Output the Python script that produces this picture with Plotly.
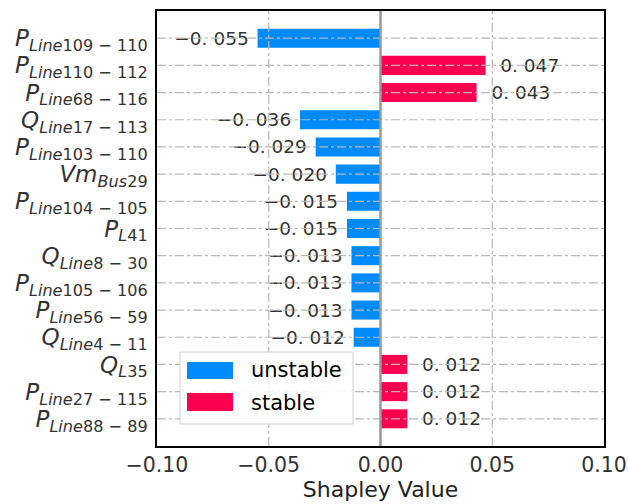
import plotly.graph_objects as go

MINUS = "\u2212"

# feature labels: (variable, subscript word, subscript number)
feat_var = ["P", "P", "P", "Q", "P", "Vm", "P", "P", "Q", "P", "P", "Q", "Q", "P", "P"]
feat_word = ["Line", "Line", "Line", "Line", "Line", "Bus", "Line", "L", "Line", "Line", "Line", "Line", "L", "Line", "Line"]
feat_num = ["109 \u2212 110", "110 \u2212 112", "68 \u2212 116", "17 \u2212 113", "103 \u2212 110", "29",
            "104 \u2212 105", "41", "8 \u2212 30", "105 \u2212 106", "56 \u2212 59", "4 \u2212 11",
            "35", "27 \u2212 115", "88 \u2212 89"]
shap_values = [-0.055, 0.047, 0.043, -0.036, -0.029, -0.020, -0.015, -0.015,
               -0.013, -0.013, -0.013, -0.012, 0.012, 0.012, 0.012]
x_ticks = [-0.10, -0.05, 0.00, 0.05, 0.10]
legend_names = ["unstable", "stable"]

BLUE = "#008bfb"
RED = "#ff0051"
FONT = "DejaVu Sans"
GRID = "#b8b8b8"

keys = [f"{v}_{w}{n}" for v, w, n in zip(feat_var, feat_word, feat_num)]
ticktext = [f"<i>{v}</i><sub><i>{w}</i>{n}</sub>" for v, w, n in zip(feat_var, feat_word, feat_num)]


def fmt(v):
    s = f"{abs(v):.3f}".replace(".", ". ")
    if v < 0:
        return MINUS + s + "\u00a0"
    return "\u00a0\u00a0" + s

fig = go.Figure()
fig.add_trace(go.Bar(
    y=keys, x=shap_values, orientation="h",
    marker=dict(color=[BLUE if v < 0 else RED for v in shap_values], line=dict(width=0)),
    width=0.7,
    text=[fmt(v) for v in shap_values],
    textposition="outside",
    textfont=dict(family=FONT, size=18.5, color="#333333"),
    constraintext="none",
    cliponaxis=False,
    showlegend=False,
    hoverinfo="skip",
))

L, R, T, B = 157, 604, 11, 446
def px(x):
    return (x - L) / (R - L)
def py(y):
    return (B - y) / (B - T)

shapes = []
# grid lines drawn above the bars (as in the reference)
for xv in x_ticks[1:-1]:
    if xv == 0:
        continue
    shapes.append(dict(type="line", xref="x", yref="paper", x0=xv, x1=xv, y0=0, y1=1,
                       line=dict(color=GRID, width=1.2, dash="dashdot"), layer="above"))
for k in keys:
    shapes.append(dict(type="line", xref="paper", yref="y", x0=0, x1=1, y0=k, y1=k,
                       line=dict(color=GRID, width=1.2, dash="dashdot"), layer="above"))
# zero line
shapes.append(dict(type="line", xref="x", yref="paper", x0=0, x1=0, y0=0, y1=1,
                   line=dict(color="#999999", width=2.5), layer="above"))
# custom legend (styled like matplotlib)
shapes += [
    dict(type="rect", xref="paper", yref="paper", x0=px(180), x1=px(353), y0=py(424), y1=py(352),
         fillcolor="rgba(255,255,255,0.9)", line=dict(color="#d0d0d0", width=1), layer="above"),
    dict(type="rect", xref="paper", yref="paper", x0=px(187), x1=px(233), y0=py(379), y1=py(362),
         fillcolor=BLUE, line=dict(width=0), layer="above"),
    dict(type="rect", xref="paper", yref="paper", x0=px(187), x1=px(233), y0=py(411), y1=py(393),
         fillcolor=RED, line=dict(width=0), layer="above"),
]
annotations = [
    dict(text=legend_names[0], xref="paper", yref="paper", x=px(249), y=py(370), xanchor="left",
         yanchor="middle", showarrow=False, font=dict(family=FONT, size=21, color="#000000")),
    dict(text=legend_names[1], xref="paper", yref="paper", x=px(249), y=py(403), xanchor="left",
         yanchor="middle", showarrow=False, font=dict(family=FONT, size=21, color="#000000")),
]

fig.update_layout(
    width=628, height=504,
    margin=dict(l=L, r=628 - R, t=T, b=504 - B, autoexpand=False),
    paper_bgcolor="white", plot_bgcolor="white",
    font=dict(family=FONT, color="#333333"),
    shapes=shapes, annotations=annotations,
    showlegend=False,
    xaxis=dict(
        range=[-0.1, 0.1], tickvals=x_ticks, tickformat=".2f",
        tickfont=dict(family=FONT, size=20.5, color="#333333"),
        showgrid=False, zeroline=False, automargin=False,
        showline=True, linecolor="black", linewidth=1.5, mirror=True,
        ticks="",
        title=dict(text="Shapley Value", font=dict(family=FONT, size=22, color="#222222"), standoff=3),
    ),
    yaxis=dict(
        categoryorder="array", categoryarray=keys,
        tickvals=keys, ticktext=ticktext,
        range=[15, -1], automargin=False,
        tickfont=dict(family=FONT, size=23, color="#333333"),
        showgrid=False, zeroline=False,
        showline=True, linecolor="black", linewidth=1.5, mirror=True,
        ticks="", ticklabelstandoff=3,
    ),
)

fig.write_html("out.html", config={"displayModeBar": False},
               post_script="document.body.style.margin='0';document.body.style.overflow='hidden';")
